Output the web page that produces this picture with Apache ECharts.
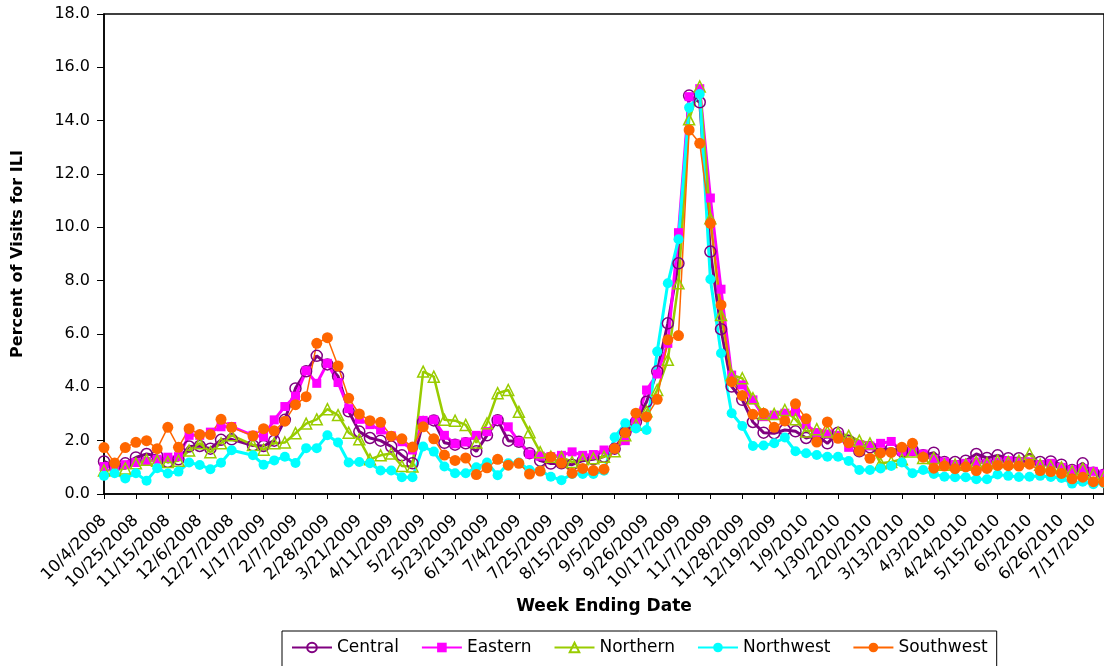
<!DOCTYPE html>
<html>
<head>
<meta charset="utf-8">
<script src="https://cdn.jsdelivr.net/npm/echarts@6/dist/echarts.min.js"></script>
<style>
html,body{margin:0;padding:0;background:#fff;}
#chart{width:1104px;height:666px;}
</style>
</head>
<body>
<div id="chart"></div>
<script>
var weeks = [
"10/4/2008","10/11/2008","10/18/2008","10/25/2008","11/1/2008","11/8/2008","11/15/2008","11/22/2008","11/29/2008","12/6/2008","12/13/2008","12/20/2008","12/27/2008",
"1/3/2009","1/10/2009","1/17/2009","1/24/2009","1/31/2009","2/7/2009","2/14/2009","2/21/2009","2/28/2009","3/7/2009","3/14/2009","3/21/2009","3/28/2009","4/4/2009","4/11/2009","4/18/2009","4/25/2009","5/2/2009","5/9/2009","5/16/2009","5/23/2009","5/30/2009","6/6/2009","6/13/2009","6/20/2009","6/27/2009","7/4/2009","7/11/2009","7/18/2009","7/25/2009","8/1/2009","8/8/2009","8/15/2009","8/22/2009","8/29/2009","9/5/2009","9/12/2009","9/19/2009","9/26/2009","10/3/2009","10/10/2009","10/17/2009","10/24/2009","10/31/2009","11/7/2009","11/14/2009","11/21/2009","11/28/2009","12/5/2009","12/12/2009","12/19/2009","12/26/2009",
"1/2/2010","1/9/2010","1/16/2010","1/23/2010","1/30/2010","2/6/2010","2/13/2010","2/20/2010","2/27/2010","3/6/2010","3/13/2010","3/20/2010","3/27/2010","4/3/2010","4/10/2010","4/17/2010","4/24/2010","5/1/2010","5/8/2010","5/15/2010","5/22/2010","5/29/2010","6/5/2010","6/12/2010","6/19/2010","6/26/2010","7/3/2010","7/10/2010","7/17/2010","7/24/2010"
];

var central = [1.22,1.05,1.15,1.37,1.5,1.43,1.2,1.3,1.78,1.8,1.7,2.03,2.05,null,1.82,1.8,2.0,2.78,3.96,4.6,5.18,4.86,4.42,3.1,2.34,2.1,2.0,1.78,1.45,1.15,2.7,2.76,1.92,1.85,1.9,1.6,2.2,2.77,2.0,1.96,1.53,1.25,1.14,1.15,1.1,1.25,1.3,1.4,1.7,2.3,2.7,3.46,4.6,6.4,8.65,14.94,14.69,9.09,6.18,4.03,3.53,2.7,2.3,2.28,2.4,2.35,2.1,2.2,1.9,2.3,2.0,1.6,1.75,1.65,1.7,1.6,1.65,1.45,1.55,1.2,1.2,1.25,1.5,1.35,1.45,1.34,1.34,1.3,1.2,1.22,1.1,0.9,1.15,0.8,0.72];

var eastern = [1.03,1.03,1.1,1.18,1.22,1.3,1.38,1.4,2.2,2.2,2.32,2.52,2.53,null,2.2,2.15,2.78,3.28,3.67,4.62,4.15,4.9,4.18,3.2,2.8,2.6,2.4,2.18,1.96,1.65,2.76,2.78,2.2,1.88,1.95,2.2,2.34,2.78,2.52,1.96,1.5,1.42,1.4,1.45,1.58,1.45,1.48,1.65,1.7,2.0,2.7,3.9,4.5,5.65,9.8,14.9,15.2,11.1,7.68,4.46,4.09,3.53,2.9,2.96,3.03,3.09,2.6,2.3,2.25,2.2,1.75,1.85,1.8,1.9,1.97,1.6,1.6,1.5,1.3,1.2,1.1,1.15,1.2,1.15,1.2,1.25,1.2,1.2,1.1,1.15,1.0,0.9,0.95,0.85,0.75];

var northern = [0.88,0.9,0.96,1.15,1.28,1.25,1.2,1.25,1.63,1.9,1.57,1.9,2.2,null,1.84,1.66,1.9,1.93,2.28,2.64,2.8,3.18,2.96,2.3,2.05,1.3,1.45,1.52,1.05,1.03,4.59,4.4,2.78,2.75,2.59,1.93,2.65,3.78,3.9,3.08,2.32,1.57,1.4,1.38,1.2,1.3,1.34,1.4,1.6,2.2,2.6,3.1,3.9,5.03,7.9,14.05,15.28,10.34,6.71,4.46,4.34,3.59,3.0,3.0,3.15,2.8,2.34,2.43,2.34,2.3,2.18,2.0,1.9,1.15,1.2,1.3,1.59,1.35,1.35,1.1,1.1,1.1,1.2,1.15,1.25,1.2,1.25,1.5,1.1,1.05,1.0,0.85,0.95,0.75,0.65];

var northwest = [0.68,0.78,0.58,0.78,0.5,0.97,0.77,0.84,1.18,1.09,0.93,1.17,1.64,null,1.45,1.1,1.26,1.4,1.16,1.72,1.72,2.2,1.93,1.18,1.2,1.15,0.88,0.88,0.63,0.63,1.78,1.59,1.03,0.78,0.78,1.0,1.18,0.7,1.15,1.18,0.9,0.88,0.65,0.52,0.75,0.75,0.75,0.87,2.13,2.65,2.46,2.4,5.34,7.9,9.55,14.49,15.0,8.05,5.28,3.03,2.55,1.8,1.82,1.9,2.12,1.6,1.53,1.46,1.4,1.4,1.24,0.9,0.9,0.96,1.05,1.18,0.78,0.9,0.75,0.65,0.63,0.63,0.55,0.55,0.73,0.68,0.64,0.65,0.68,0.64,0.6,0.39,0.46,0.37,0.4];

var southwest = [1.74,1.16,1.74,1.94,2.0,1.7,2.5,1.75,2.45,2.23,2.23,2.8,2.5,null,2.18,2.45,2.37,2.73,3.35,3.65,5.65,5.86,4.8,3.59,3.0,2.75,2.69,2.17,2.07,1.76,2.52,2.07,1.46,1.26,1.35,0.73,0.98,1.3,1.08,1.15,0.75,0.86,1.39,1.16,0.78,0.96,0.88,0.93,1.71,2.3,3.03,2.89,3.55,5.78,5.94,13.65,13.15,10.15,7.09,4.21,3.69,2.99,3.03,2.5,2.74,3.38,2.82,1.95,2.7,2.09,1.92,1.61,1.34,1.54,1.56,1.75,1.9,1.38,0.97,1.05,0.95,1.02,0.88,0.96,1.07,1.06,1.05,1.12,0.88,0.84,0.77,0.57,0.63,0.46,0.45];

var yTicks = {min: 0, max: 18, interval: 2};

var FONT = 'DejaVu Sans';

function mkSeries(name, data, color, symbol, size, hollow, lw) {
  return {
    name: name,
    type: 'line',
    data: data,
    connectNulls: true,
    symbol: symbol,
    symbolSize: size,
    showAllSymbol: true,
    animation: false,
    lineStyle: {color: color, width: lw},
    itemStyle: hollow
      ? {color: 'rgba(255,255,255,0)', borderColor: color, borderWidth: 1.5}
      : {color: color, borderColor: color, borderWidth: 0},
    emphasis: {disabled: true}
  };
}

var chart = echarts.init(document.getElementById('chart'), null, {renderer: 'canvas'});
chart.setOption({
  animation: false,
  backgroundColor: '#fff',
  grid: {left: 104, top: 14, bottom: 172, right: -3, show: true, borderColor: '#000', borderWidth: 1.5, containLabel: false},
  xAxis: {
    type: 'category',
    data: weeks,
    boundaryGap: false,
    name: 'Week Ending Date',
    nameLocation: 'middle',
    nameGap: 104,
    nameTextStyle: {fontFamily: FONT, fontWeight: 'bold', fontSize: 17, color: '#000'},
    axisLine: {lineStyle: {color: '#000', width: 1.5}},
    axisTick: {show: true, interval: 2, length: 5, lineStyle: {color: '#000', width: 1}},
    axisLabel: {interval: 2, rotate: 45, margin: 24, fontFamily: FONT, fontSize: 16.5, color: '#000'},
    splitLine: {show: false}
  },
  yAxis: {
    type: 'value',
    min: yTicks.min, max: yTicks.max, interval: yTicks.interval,
    name: 'Percent of Visits for ILI',
    nameLocation: 'middle',
    nameGap: 78,
    nameTextStyle: {fontFamily: FONT, fontWeight: 'bold', fontSize: 16, color: '#000'},
    axisLine: {show: true, lineStyle: {color: '#000', width: 1.5}},
    axisTick: {show: true, length: 7, lineStyle: {color: '#000', width: 1}},
    axisLabel: {margin: 14, fontFamily: FONT, fontSize: 16, color: '#000', formatter: function (v) { return v.toFixed(1); }},
    splitLine: {show: false}
  },
  legend: {
    left: 282, top: 631,
    orient: 'horizontal',
    itemWidth: 40, itemHeight: 12, itemGap: 22,
    padding: [8, 9, 30, 9],
    borderColor: '#000', borderWidth: 1,
    textStyle: {fontFamily: FONT, fontSize: 17, color: '#000'},
    data: ['Central', 'Eastern', 'Northern', 'Northwest', 'Southwest']
  },
  series: [
    mkSeries('Central', central, '#800080', 'circle', 11, true, 3),
    mkSeries('Eastern', eastern, '#FF00FF', 'rect', 9, false, 3),
    mkSeries('Northern', northern, '#99CC00', 'triangle', 11, true, 2.5),
    mkSeries('Northwest', northwest, '#00FFFF', 'circle', 10, false, 3),
    mkSeries('Southwest', southwest, '#FF6600', 'circle', 11, false, 1.5)
  ]
});
</script>
</body>
</html>
